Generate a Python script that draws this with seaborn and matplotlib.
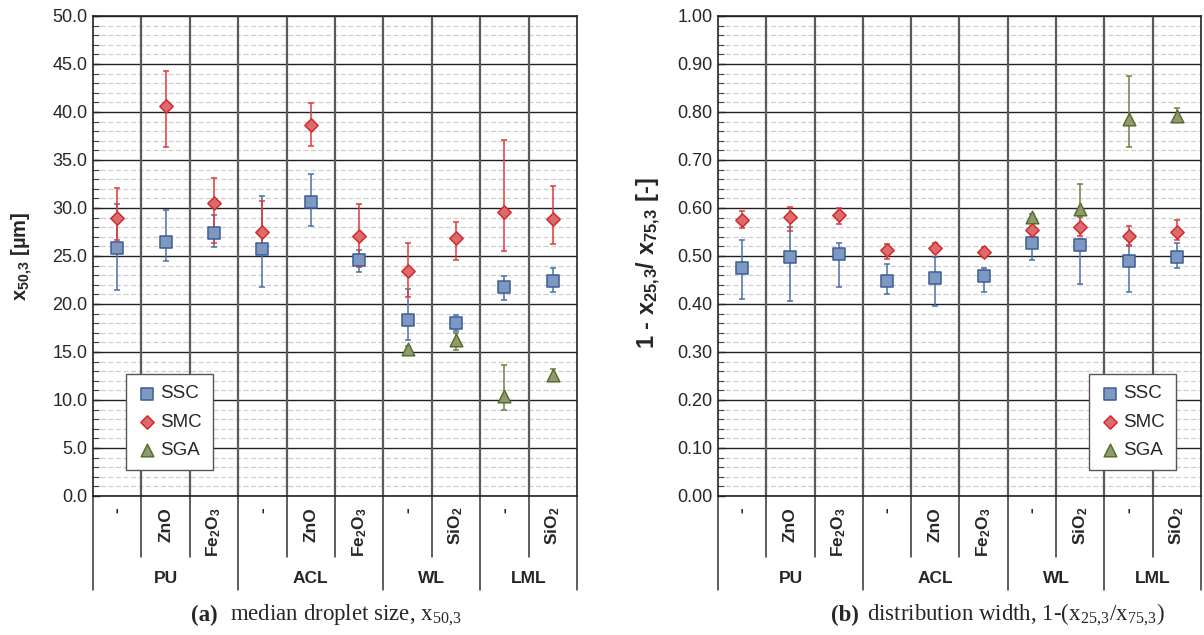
import numpy as np
import pandas as pd
import seaborn as sns
import matplotlib.pyplot as plt
import matplotlib.transforms as mtransforms
from matplotlib.ticker import MultipleLocator, FormatStrFormatter

# categorias: grupo e aditivo
groups = ['PU', 'ACL', 'WL', 'LML']
group_sizes = [3, 3, 2, 2]
additives = ['-', 'ZnO', r'Fe$\mathregular{_2}$O$\mathregular{_3}$',
             '-', 'ZnO', r'Fe$\mathregular{_2}$O$\mathregular{_3}$',
             '-', r'SiO$\mathregular{_2}$',
             '-', r'SiO$\mathregular{_2}$']
series = ['SSC', 'SMC', 'SGA']
nan = np.nan

# (a) x50,3 [um]
ssc_x50 = [25.8, 26.5, 27.4, 25.7, 30.6, 24.6, 18.3, 18.0, 21.8, 22.4]
ssc_x50_lo = [21.5, 24.5, 25.9, 21.8, 28.1, 23.3, 16.2, 17.2, 20.4, 21.3]
ssc_x50_hi = [30.4, 29.8, 29.3, 31.2, 33.5, 25.6, 21.6, 18.9, 22.9, 23.8]
smc_x50 = [29.0, 40.6, 30.5, 27.5, 38.6, 27.1, 23.4, 26.9, 29.6, 28.9]
smc_x50_lo = [26.7, 36.4, 26.4, 25.7, 36.5, 23.9, 20.7, 24.6, 25.5, 26.3]
smc_x50_hi = [32.1, 44.3, 33.1, 30.7, 40.9, 30.4, 26.4, 28.5, 37.1, 32.3]
sga_x50 = [nan, nan, nan, nan, nan, nan, 15.3, 16.2, 10.4, 12.6]
sga_x50_lo = [nan, nan, nan, nan, nan, nan, 15.0, 15.2, 9.0, 12.0]
sga_x50_hi = [nan, nan, nan, nan, nan, nan, 15.6, 17.0, 13.6, 13.2]

# (b) 1 - x25,3/x75,3
ssc_w = [0.474, 0.497, 0.504, 0.448, 0.455, 0.459, 0.528, 0.522, 0.490, 0.497]
ssc_w_lo = [0.410, 0.407, 0.435, 0.421, 0.396, 0.426, 0.492, 0.442, 0.426, 0.474]
ssc_w_hi = [0.533, 0.561, 0.528, 0.483, 0.497, 0.476, 0.540, 0.535, 0.522, 0.528]
smc_w = [0.576, 0.581, 0.585, 0.513, 0.517, 0.508, 0.554, 0.561, 0.542, 0.550]
smc_w_lo = [0.559, 0.552, 0.566, 0.493, 0.506, 0.497, 0.545, 0.542, 0.521, 0.533]
smc_w_hi = [0.594, 0.603, 0.601, 0.526, 0.528, 0.519, 0.562, 0.582, 0.563, 0.576]
sga_w = [nan, nan, nan, nan, nan, nan, 0.582, 0.598, 0.785, 0.792]
sga_w_lo = [nan, nan, nan, nan, nan, nan, 0.575, 0.565, 0.728, 0.785]
sga_w_hi = [nan, nan, nan, nan, nan, nan, 0.588, 0.651, 0.874, 0.809]

markers = {'SSC': 's', 'SMC': 'D', 'SGA': '^'}
sizes = {'SSC': 72, 'SMC': 46, 'SGA': 82}
face = {'SSC': '#7d99c2', 'SMC': '#dd6a6e', 'SGA': '#8c9c6c'}
edge = {'SSC': '#3a5d94', 'SMC': '#d02c2c', 'SGA': '#5a6d33'}
err = {'SSC': '#4b70a6', 'SMC': '#e0383a', 'SGA': '#6f8048'}

sns.set_style('white')
plt.rcParams['font.family'] = ['Liberation Sans', 'DejaVu Sans']


def make_table(values, lows, highs):
    frames = []
    for name, v, lo, hi in zip(series, values, lows, highs):
        frames.append(pd.DataFrame({'pos': np.arange(len(additives)), 'series': name,
                                    'value': v, 'lo': lo, 'hi': hi}))
    return pd.concat(frames, ignore_index=True)


def draw_panel(ax, df, ymax, major, minor, fmt, ylabel, ylabel_size, label_xy, leg_loc, leg_anchor):
    for name in series:
        d = df[df['series'] == name].dropna()
        ax.errorbar(d['pos'], d['value'], yerr=[d['value'] - d['lo'], d['hi'] - d['value']],
                    fmt='none', ecolor=err[name], elinewidth=1.1, capsize=2.5, capthick=1.1, zorder=3)
        sns.scatterplot(data=d, x='pos', y='value', marker=markers[name], s=sizes[name],
                        color=face[name], edgecolor=edge[name], linewidth=1.1,
                        label=name, ax=ax, zorder=4)

    ax.set_xlim(-0.5, len(additives) - 0.5)
    ax.set_ylim(0, ymax)
    ax.yaxis.set_major_locator(MultipleLocator(major))
    ax.yaxis.set_minor_locator(MultipleLocator(minor))
    ax.yaxis.set_major_formatter(FormatStrFormatter(fmt))
    ax.set_axisbelow(True)
    ax.yaxis.grid(True, which='major', color='#202020', lw=1.0)
    ax.yaxis.grid(True, which='minor', color='#cdcdcd', lw=0.9, ls=(0, (4, 2)))
    for k in range(len(additives) - 1):
        ax.axvline(k + 0.5, color='#5a5a5a', lw=1.6, zorder=1)
    for s in ax.spines.values():
        s.set_color('#222222')
        s.set_linewidth(1.2)

    ax.tick_params(axis='y', which='both', left=True, direction='in', labelsize=13, pad=4)
    ax.tick_params(axis='y', which='major', length=5, width=1)
    ax.tick_params(axis='y', which='minor', length=4.5, width=0.8, color='#444444')
    ax.set_xticks(range(len(additives)))
    ax.set_xticklabels(additives, rotation=90, fontweight='bold', fontsize=12.5)
    ax.tick_params(axis='x', length=0, pad=8)
    ax.set_xlabel('')
    ax.set_ylabel(ylabel, fontsize=ylabel_size, fontweight='bold')
    ax.yaxis.set_label_coords(*label_xy)

    # tabela de categorias abaixo do eixo
    trans = mtransforms.blended_transform_factory(ax.transData, ax.transAxes)
    edges = np.cumsum([0] + group_sizes) - 0.5
    for b in np.arange(len(additives) + 1) - 0.5:
        bottom = -0.196 if b in edges else -0.127
        ax.plot([b, b], [0, bottom], transform=trans, color='#333333', lw=1.1, clip_on=False)
    for g, lo, hi in zip(groups, edges[:-1], edges[1:]):
        ax.text((lo + hi) / 2, -0.171, g, transform=trans, ha='center', va='center',
                fontsize=12.5, fontweight='bold')

    ax.legend(loc=leg_loc, bbox_to_anchor=leg_anchor, frameon=True, fancybox=False,
              edgecolor='#555555', framealpha=1, fontsize=13.5, handletextpad=0.2,
              labelspacing=0.6, borderpad=0.6, handlelength=1.0, borderaxespad=0)


fig = plt.figure(figsize=(12.04, 6.35), dpi=100)
ax1 = fig.add_axes([93 / 1204, 1 - 496 / 635, 484 / 1204, 480 / 635])
ax2 = fig.add_axes([718 / 1204, 1 - 496 / 635, 483 / 1204, 480 / 635])

df_a = make_table([ssc_x50, smc_x50, sga_x50], [ssc_x50_lo, smc_x50_lo, sga_x50_lo],
                  [ssc_x50_hi, smc_x50_hi, sga_x50_hi])
df_b = make_table([ssc_w, smc_w, sga_w], [ssc_w_lo, smc_w_lo, sga_w_lo],
                  [ssc_w_hi, smc_w_hi, sga_w_hi])

draw_panel(ax1, df_a, 50, 5, 1, '%.1f', r'x$\mathregular{_{50,\!3}}$ [µm]', 14.5,
           (-0.12, 0.5), 'upper left', (0.068, 0.254))
draw_panel(ax2, df_b, 1.0, 0.1, 0.02, '%.2f',
           r'1 - x$\mathregular{_{25,\!3}}$/ x$\mathregular{_{75,\!3}}$ [-]', 17,
           (-0.114, 0.485), 'upper right', (0.948, 0.254))

# legendas (a) e (b)
serif = ['Liberation Serif', 'DejaVu Serif']
fig.text(218 / 1204, 1 - 615 / 635, '(a)', ha='right', va='center', family=serif,
         fontweight='bold', fontsize=16.5)
fig.text(230 / 1204, 1 - 615 / 635, r'median droplet size, x$\mathregular{_{50,\!3}}$',
         ha='left', va='center', family=serif, fontsize=16.5)
fig.text(859 / 1204, 1 - 615 / 635, '(b)', ha='right', va='center', family=serif,
         fontweight='bold', fontsize=16.5)
fig.text(867 / 1204, 1 - 615 / 635,
         r'distribution width, 1-(x$\mathregular{_{25,\!3}}$/x$\mathregular{_{75,\!3}}$)',
         ha='left', va='center', family=serif, fontsize=16.5)

fig.savefig('out.png', dpi=100)
